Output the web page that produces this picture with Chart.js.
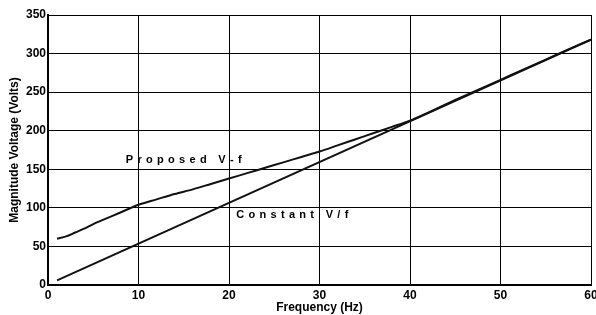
<!DOCTYPE html>
<html>
<head>
<meta charset="utf-8">
<script src="https://cdn.jsdelivr.net/npm/chart.js@4/dist/chart.umd.min.js"></script>
<style>
html,body{margin:0;padding:0;background:#fff;}
#wrap{width:596px;height:315px;position:relative;}
</style>
</head>
<body>
<div id="wrap"><canvas id="c" width="596" height="315"></canvas></div>
<script>
const freq = [1, 2, 3, 4, 5, 6, 8, 10, 12, 14, 16, 18, 20, 22, 24, 26, 28, 30, 32, 34, 36, 38, 40, 42, 44, 46, 48, 50, 52, 54, 56, 58, 60];
const proposedVf = [60, 63, 68, 73, 79, 84, 94, 104, 111, 118, 124, 131, 138, 145, 152, 159, 166, 173, 181, 189, 197, 205, 213, 223.5, 234.5, 245, 255.5, 266, 276.5, 287, 297.5, 308, 318];
const constantFreq = [1, 60];
const constantVf = [6, 318];
const xTicks = [0, 10, 20, 30, 40, 50, 60];
const yTicks = [0, 50, 100, 150, 200, 250, 300, 350];
const annotations = [
  {text: 'Proposed V-f', x: 8.6, y: 162},
  {text: 'Constant V/f', x: 20.8, y: 91}
];

const FONT = '"Liberation Sans", Arial, sans-serif';

const labelPlugin = {
  id: 'labels',
  afterDatasetsDraw(chart) {
    const ctx = chart.ctx;
    const xs = chart.scales.x, ys = chart.scales.y;
    ctx.save();
    ctx.font = 'bold 11px ' + FONT;
    ctx.fillStyle = '#000';
    ctx.textBaseline = 'middle';
    ctx.textAlign = 'left';
    annotations.forEach(a => {
      let px = xs.getPixelForValue(a.x);
      const py = ys.getPixelForValue(a.y);
      for (const ch of a.text) {
        ctx.fillText(ch, px, py);
        px += ctx.measureText(ch).width + 4.3;
      }
    });
    ctx.restore();
  }
};

new Chart(document.getElementById('c'), {
  type: 'line',
  data: {
    datasets: [
      {
        label: 'Proposed V-f',
        data: freq.map((f, i) => ({x: f, y: proposedVf[i]})),
        borderColor: '#111', borderWidth: 2, pointRadius: 0, tension: 0.3, fill: false
      },
      {
        label: 'Constant V/f',
        data: constantFreq.map((f, i) => ({x: f, y: constantVf[i]})),
        borderColor: '#111', borderWidth: 2, pointRadius: 0, tension: 0, fill: false
      }
    ]
  },
  options: {
    responsive: false,
    animation: false,
    layout: {padding: {top: 15, right: 5, left: 0, bottom: 0}},
    plugins: {legend: {display: false}, tooltip: {enabled: false}},
    scales: {
      x: {
        type: 'linear', min: 0, max: 60,
        afterBuildTicks(s) { s.ticks = xTicks.map(v => ({value: v})); },
        afterFit(s) { s.height = 30; s.paddingRight = 0; s.paddingLeft = 0; },
        grid: {color: '#000', lineWidth: 1, drawTicks: false},
        border: {color: '#000', width: 2},
        ticks: {color: '#000', font: {family: FONT, size: 12, weight: 'bold'}, padding: 3, maxRotation: 0, autoSkip: false},
        title: {display: true, text: 'Frequency (Hz)', color: '#000', font: {family: FONT, size: 12, weight: 'bold'}, padding: {top: 0, bottom: 0}}
      },
      y: {
        type: 'linear', min: 0, max: 350,
        afterBuildTicks(s) { s.ticks = yTicks.map(v => ({value: v})); },
        afterFit(s) { s.width = 48; s.paddingTop = 0; s.paddingBottom = 0; },
        grid: {color: '#000', lineWidth: 1, drawTicks: false},
        border: {color: '#000', width: 2},
        ticks: {color: '#000', font: {family: FONT, size: 12, weight: 'bold'}, padding: 2, autoSkip: false},
        title: {display: true, text: 'Magnitude Voltage (Volts)', color: '#000', font: {family: FONT, size: 12, weight: 'bold'}, padding: {top: 7, bottom: 0}}
      }
    }
  },
  plugins: [labelPlugin]
});
</script>
</body>
</html>
